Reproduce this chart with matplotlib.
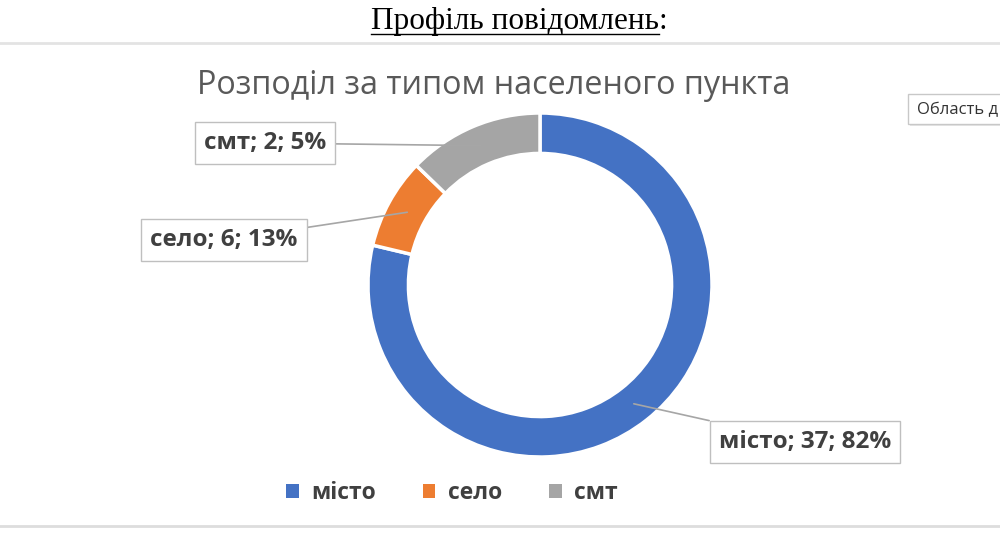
import numpy as np
import matplotlib.pyplot as plt
from matplotlib.patches import Patch, Rectangle
from matplotlib.lines import Line2D

# Data (slice sizes read from the drawn ring; label texts as printed on the chart)
categories = ['місто', 'село', 'смт']
slice_values = [37, 4, 6]
label_texts = ['місто; 37; 82%', 'село; 6; 13%', 'смт; 2; 5%']
colors = ['#4472C4', '#ED7D31', '#A5A5A5']

heading = 'Профіль повідомлень'
chart_title = 'Розподіл за типом населеного пункта'

W, H = 1000, 550
fig = plt.figure(figsize=(10, 5.5), dpi=100)
fig.patch.set_facecolor('white')


def fx(x):
    return x / W


def fy(y):
    return 1 - y / H


# separator lines of the document page
fig.add_artist(Line2D([0, 1], [fy(43), fy(43)], color='#E3E3E3', lw=2))
fig.add_artist(Line2D([0, 1], [fy(526), fy(526)], color='#DDDDDD', lw=2))

# underlined heading with a plain colon
h1 = fig.text(fx(519), fy(21), heading + ':', ha='center', va='center',
              fontsize=22.5, family='Liberation Serif', color='black')
fig.canvas.draw()
r = fig.canvas.get_renderer()
ext = h1.get_window_extent(r)
colon = fig.text(0, 0, ':', fontsize=22.5, family='Liberation Serif')
cw = colon.get_window_extent(r).width
colon.remove()
uy = ext.y0 + 2
fig.add_artist(Line2D([ext.x0 / W, (ext.x1 - cw) / W], [uy / H, uy / H],
                      color='black', lw=1))

fig.text(fx(494), fy(86), chart_title, ha='center', va='center',
         fontsize=23.3, family='Open Sans', color='#595959')

# donut
R = 172
ax = fig.add_axes([fx(540 - R), fy(285 + R), 2 * R / W, 2 * R / H])
wedges, _ = ax.pie(slice_values, colors=colors, startangle=90, counterclock=False,
                   radius=1, wedgeprops=dict(width=0.235, edgecolor='white', linewidth=2.5))
ax.set_xlim(-1, 1)
ax.set_ylim(-1, 1)
ax.set_aspect('equal')
ax.axis('off')

label_pos = [(805, 442), (224, 240), (265, 143)]
for w, txt, (tx, ty) in zip(wedges, label_texts, label_pos):
    mid = np.deg2rad((w.theta1 + w.theta2) / 2)
    ax.annotate(txt, xy=(0.88 * np.cos(mid), 0.88 * np.sin(mid)), xycoords='data',
                xytext=(tx, H - ty), textcoords='figure pixels',
                ha='center', va='center', fontsize=17.5, fontweight='bold',
                family='Open Sans', color='#404040',
                bbox=dict(boxstyle='square,pad=0.38', fc='white', ec='#BFBFBF', lw=1),
                arrowprops=dict(arrowstyle='-', color='#A6A6A6', lw=1.2,
                                shrinkA=0, shrinkB=0))

# legend
handles = [Patch(facecolor=c, edgecolor='none') for c in colors]
fig.legend(handles, categories, loc='center', bbox_to_anchor=(fx(452), fy(493)),
           ncol=3, frameon=False, handlelength=0.55, handleheight=0.55,
           handletextpad=0.55, columnspacing=2.05,
           prop=dict(family='Open Sans', weight='bold', size=16.5), labelcolor='#404040')

# Excel tooltip cut off at the right edge
fig.add_artist(Rectangle((fx(910), fy(126)), 0.2, 31 / H, transform=fig.transFigure,
                         fc='#E6E6E6', ec='none'))
fig.add_artist(Rectangle((fx(908), fy(124)), 0.2, 30 / H, transform=fig.transFigure,
                         fc='white', ec='#C8C8C8', lw=1))
fig.text(fx(917), fy(110), 'Область д', ha='left', va='center', fontsize=12,
         family='Open Sans', color='#333333')

fig.savefig('out.png', dpi=100)
